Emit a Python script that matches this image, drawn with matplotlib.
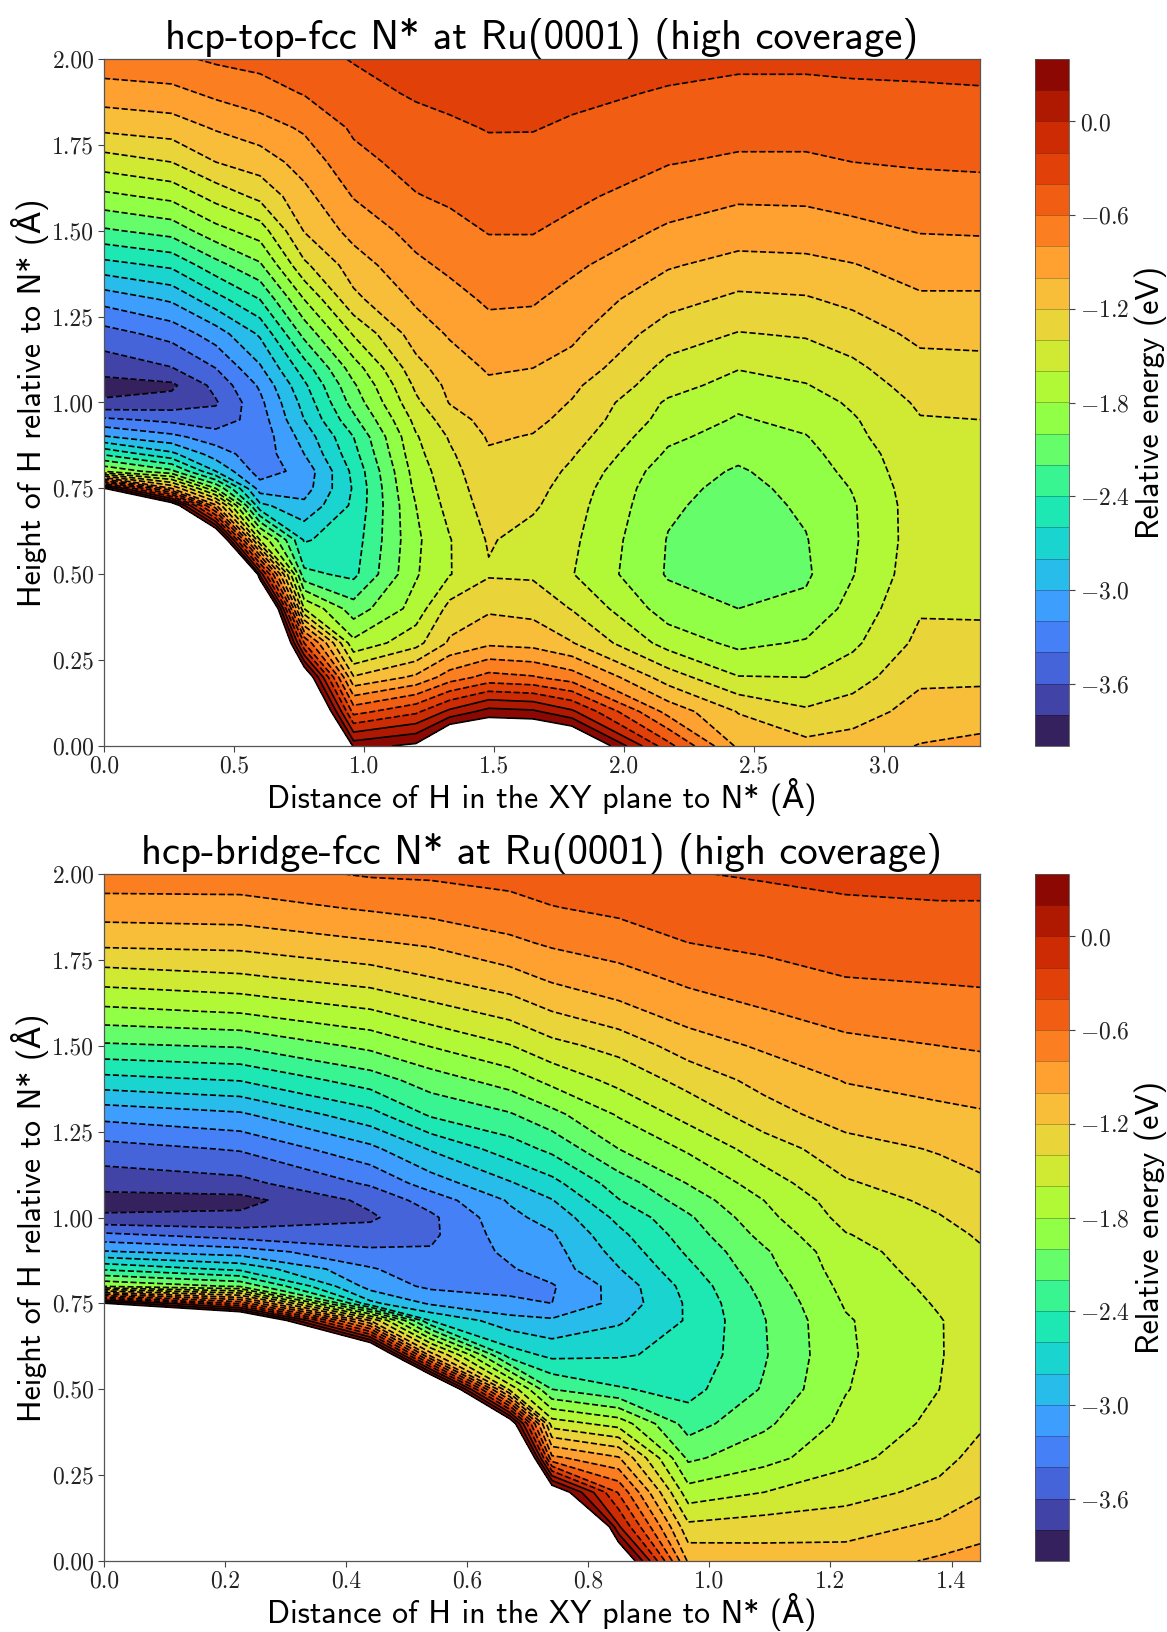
import matplotlib
matplotlib.use('Agg')
import matplotlib.pyplot as plt
import numpy as np

plt.rcParams['font.family'] = ['cmr10', 'DejaVu Serif']
plt.rcParams['mathtext.fontset'] = 'cm'
plt.rcParams['axes.formatter.use_mathtext'] = True
plt.rcParams['axes.unicode_minus'] = True

SANS = ['cmss10', 'DejaVu Sans']

heights = [0, .1, .2, .3, .4, .5, .6, .7, .75, .8, .85, .9, .95, 1.0, 1.05, 1.1,
           1.2, 1.3, 1.4, 1.5, 1.6, 1.7, 1.8, 1.9, 2.0]

# one list per distance, running up the heights above
top_dist = [0, .26, .43, .6, .77, .96, 1.2, 1.33, 1.48, 1.65, 1.8, 2.17, 2.44, 2.7, 2.88, 3.14, 3.37]
top_energy = [
    [5, 5, 5, 5, 5, 5, 5, 5, .42, -1.82, -2.43, -2.98, -3.36, -3.77, -3.88, -3.72, -3.48, -3.13, -2.67, -2.23, -1.85, -1.5, -1.15, -.9, -.67],
    [5, 5, 5, 5, 5, 5, 5, .7, -1.0, -2.15, -2.75, -3.15, -3.45, -3.72, -3.84, -3.61, -3.33, -2.97, -2.56, -2.12, -1.75, -1.4, -1.1, -.86, -.64],
    [5, 5, 5, 5, 5, 5, 1.1, -.96, -2.0, -2.8, -3.1, -3.3, -3.52, -3.62, -3.54, -3.4, -3.1, -2.68, -2.27, -1.87, -1.53, -1.2, -.98, -.76, -.57],
    [5, 5, 5, 2.27, 1.79, .15, -1.6, -2.75, -3.1, -3.3, -3.32, -3.33, -3.3, -3.25, -3.17, -3.03, -2.77, -2.4, -2.03, -1.7, -1.35, -1.1, -.89, -.68, -.54],
    [5, 1.46, .75, -.4, -1.6, -2.35, -2.62, -2.95, -3.09, -3.13, -3.0, -2.92, -2.8, -2.73, -2.64, -2.5, -2.14, -1.8, -1.44, -1.19, -1.06, -.92, -.77, -.59, -.46],
    [.32, -.47, -1.18, -1.75, -2.11, -2.45, -2.5, -2.56, -2.58, -2.55, -2.47, -2.4, -2.25, -2.12, -2.03, -1.9, -1.58, -1.25, -1.1, -.93, -.79, -.66, -.57, -.46, -.39],
    [.45, -.24, -.96, -1.47, -1.72, -1.82, -1.84, -1.8, -1.75, -1.71, -1.66, -1.62, -1.54, -1.44, -1.36, -1.27, -1.1, -.97, -.84, -.73, -.61, -.53, -.46, -.38, -.3],
    [1.0, .05, -.7, -1.17, -1.33, -1.61, -1.61, -1.53, -1.5, -1.47, -1.43, -1.38, -1.29, -1.19, -1.15, -1.09, -.98, -.87, -.76, -.66, -.57, -.5, -.43, -.35, -.28],
    [1.0, .28, -.53, -1.04, -1.23, -1.42, -1.38, -1.32, -1.29, -1.26, -1.22, -1.18, -1.13, -1.08, -1.03, -.98, -.87, -.77, -.68, -.59, -.53, -.46, -.39, -.33, -.27],
    [1.0, .24, -.58, -1.07, -1.26, -1.43, -1.48, -1.37, -1.33, -1.29, -1.25, -1.21, -1.16, -1.11, -1.05, -1.0, -.88, -.78, -.68, -.59, -.53, -.47, -.39, -.33, -.27],
    [.9, .04, -.7, -1.19, -1.41, -1.59, -1.56, -1.52, -1.49, -1.44, -1.38, -1.31, -1.25, -1.21, -1.16, -1.07, -.96, -.87, -.76, -.65, -.56, -.49, -.43, -.35, -.27],
    [-.33, -.87, -1.3, -1.68, -1.9, -2.02, -2.01, -1.97, -1.95, -1.91, -1.83, -1.76, -1.68, -1.63, -1.52, -1.46, -1.3, -1.13, -.98, -.83, -.7, -.59, -.51, -.42, -.33],
    [-1.04, -1.21, -1.59, -1.85, -2.0, -2.08, -2.1, -2.08, -2.05, -2.02, -1.96, -1.88, -1.82, -1.76, -1.68, -1.59, -1.41, -1.24, -1.07, -.9, -.77, -.63, -.53, -.45, -.36],
    [-1.14, -1.37, -1.6, -1.78, -1.95, -2.03, -2.01, -1.97, -1.95, -1.91, -1.86, -1.81, -1.74, -1.69, -1.61, -1.53, -1.38, -1.22, -1.05, -.9, -.76, -.63, -.53, -.45, -.36],
    [-1.1, -1.3, -1.49, -1.64, -1.73, -1.81, -1.83, -1.82, -1.79, -1.74, -1.7, -1.65, -1.62, -1.57, -1.5, -1.44, -1.31, -1.15, -1.01, -.85, -.73, -.6, -.51, -.43, -.36],
    [-.99, -1.12, -1.24, -1.35, -1.42, -1.47, -1.49, -1.49, -1.48, -1.47, -1.46, -1.44, -1.41, -1.37, -1.32, -1.27, -1.15, -1.03, -.91, -.79, -.68, -.58, -.5, -.42, -.36],
    [-.95, -1.09, -1.24, -1.36, -1.42, -1.46, -1.47, -1.46, -1.46, -1.45, -1.44, -1.43, -1.4, -1.35, -1.3, -1.25, -1.15, -1.03, -.91, -.78, -.67, -.57, -.5, -.42, -.33],
]

bottom_dist = [0, .225, .44, .54, .67, .74, .85, .965, 1.09, 1.225, 1.38, 1.447]
bottom_energy = [
    [5, 5, 5, 5, 5, 5, 5, 5, .42, -1.82, -2.43, -2.98, -3.36, -3.77, -3.88, -3.72, -3.48, -3.13, -2.67, -2.23, -1.85, -1.5, -1.15, -.9, -.67],
    [5, 5, 5, 5, 5, 5, 5, 1.3, -.45, -2.03, -2.65, -3.1, -3.5, -3.75, -3.87, -3.66, -3.38, -3.03, -2.59, -2.18, -1.78, -1.43, -1.13, -.88, -.68],
    [5, 5, 5, 5, 5, 5, 1.3, -1.2, -2.75, -3.08, -3.18, -3.36, -3.52, -3.63, -3.55, -3.37, -3.05, -2.67, -2.3, -1.95, -1.62, -1.3, -1.02, -.78, -.58],
    [5, 5, 5, 5, 5, 1.5, -1.1, -2.6, -3.03, -3.24, -3.33, -3.38, -3.44, -3.44, -3.31, -3.1, -2.78, -2.37, -2.1, -1.79, -1.48, -1.2, -.97, -.73, -.57],
    [5, 5, 5, 2.07, .71, -1.45, -2.5, -2.92, -3.17, -3.24, -3.22, -3.16, -3.1, -3.05, -2.98, -2.82, -2.5, -2.22, -1.91, -1.61, -1.33, -1.07, -.84, -.67, -.53],
    [5, 2.67, .7, -.75, -1.5, -2.2, -2.65, -2.97, -3.2, -3.22, -3.1, -3.07, -3.02, -2.93, -2.81, -2.66, -2.35, -2.06, -1.74, -1.46, -1.2, -.96, -.77, -.61, -.49],
    [.85, .03, -.42, -.98, -1.68, -2.38, -2.62, -2.83, -2.93, -2.92, -2.81, -2.73, -2.65, -2.55, -2.41, -2.3, -2.0, -1.78, -1.54, -1.33, -1.06, -.87, -.7, -.56, -.45],
    [-1.03, -1.35, -1.72, -2.04, -2.29, -2.47, -2.55, -2.58, -2.57, -2.53, -2.45, -2.37, -2.3, -2.23, -2.11, -1.99, -1.77, -1.53, -1.33, -1.1, -.91, -.75, -.6, -.5, -.41],
    [-1.09, -1.3, -1.6, -1.87, -2.04, -2.18, -2.22, -2.21, -2.18, -2.13, -2.07, -2.03, -1.94, -1.86, -1.8, -1.7, -1.5, -1.29, -1.13, -.97, -.81, -.68, -.55, -.47, -.38],
    [-1.1, -1.28, -1.48, -1.66, -1.75, -1.81, -1.83, -1.82, -1.78, -1.74, -1.7, -1.67, -1.61, -1.54, -1.49, -1.42, -1.29, -1.1, -.99, -.85, -.72, -.6, -.52, -.44, -.34],
    [-.97, -1.16, -1.34, -1.47, -1.55, -1.6, -1.61, -1.61, -1.58, -1.55, -1.52, -1.49, -1.46, -1.41, -1.36, -1.3, -1.18, -1.05, -.92, -.8, -.68, -.58, -.5, -.42, -.33],
    [-.93, -1.07, -1.22, -1.33, -1.43, -1.49, -1.52, -1.51, -1.5, -1.48, -1.45, -1.42, -1.38, -1.33, -1.27, -1.23, -1.13, -1.02, -.9, -.78, -.67, -.57, -.49, -.42, -.33],
]

top_title = 'hcp-top-fcc N* at Ru(0001) (high coverage)'
bottom_title = 'hcp-bridge-fcc N* at Ru(0001) (high coverage)'
x_label = 'Distance of H in the XY plane to N* (Å)'
y_label = 'Height of H relative to N* (Å)'
bar_label = 'Relative energy (eV)'
levels = np.arange(-4.0, 0.41, 0.2)
bar_ticks = [-3.6, -3.0, -2.4, -1.8, -1.2, -0.6, 0.0]
height_ticks = [0, .25, .5, .75, 1.0, 1.25, 1.5, 1.75, 2.0]

W, H = 1167, 1632


def px_axes(fig, left, top, right, bottom):
    return fig.add_axes([left / W, 1 - bottom / H, (right - left) / W, (bottom - top) / H])


def draw_panel(fig, top, bottom, dist, energy, title, x_ticks, x_format):
    ax = px_axes(fig, 104, top, 980, bottom)
    cax = px_axes(fig, 1035, top, 1069, bottom)

    z = np.array(energy).T
    filled = ax.contourf(dist, heights, z, levels=levels, cmap='turbo')
    ax.contour(dist, heights, z, levels=levels, colors='k', linewidths=1.2)

    ax.set_xlim(0, dist[-1])
    ax.set_ylim(0, 2)
    ax.set_xticks(x_ticks)
    ax.set_xticklabels([x_format % t for t in x_ticks])
    ax.set_yticks(height_ticks)
    ax.set_yticklabels(['%.2f' % t for t in height_ticks])
    ax.tick_params(labelsize=17, length=4, width=0.8, color='#444444', labelcolor='#222222', pad=3)
    for spine in ax.spines.values():
        spine.set_linewidth(0.9)
        spine.set_color('#555555')
    ax.set_title(title, family=SANS, fontsize=29.3, pad=7)
    ax.set_xlabel(x_label, family=SANS, fontsize=23, labelpad=0)
    ax.set_ylabel(y_label, family=SANS, fontsize=23, labelpad=2)

    bar = fig.colorbar(filled, cax=cax, drawedges=True)
    bar.dividers.set_linewidth(0.6)
    bar.dividers.set_color((0, 0, 0, 0.3))
    bar.outline.set_linewidth(0.6)
    bar.outline.set_edgecolor('#555555')
    bar.set_ticks(bar_ticks)
    bar.set_ticklabels([r'$%s$' % ('%.1f' % t) for t in bar_ticks])
    bar.ax.tick_params(labelsize=17, length=4, width=0.8, color='#444444', labelcolor='#222222', pad=4)
    bar.set_label(bar_label, family=SANS, fontsize=23, labelpad=3)


fig = plt.figure(figsize=(W / 100, H / 100), dpi=100)
draw_panel(fig, 59, 746, top_dist, top_energy, top_title, [0, .5, 1, 1.5, 2, 2.5, 3], '%.1f')
draw_panel(fig, 874, 1561, bottom_dist, bottom_energy, bottom_title, [0, .2, .4, .6, .8, 1.0, 1.2, 1.4], '%.1f')
fig.savefig('out.png', dpi=100)
